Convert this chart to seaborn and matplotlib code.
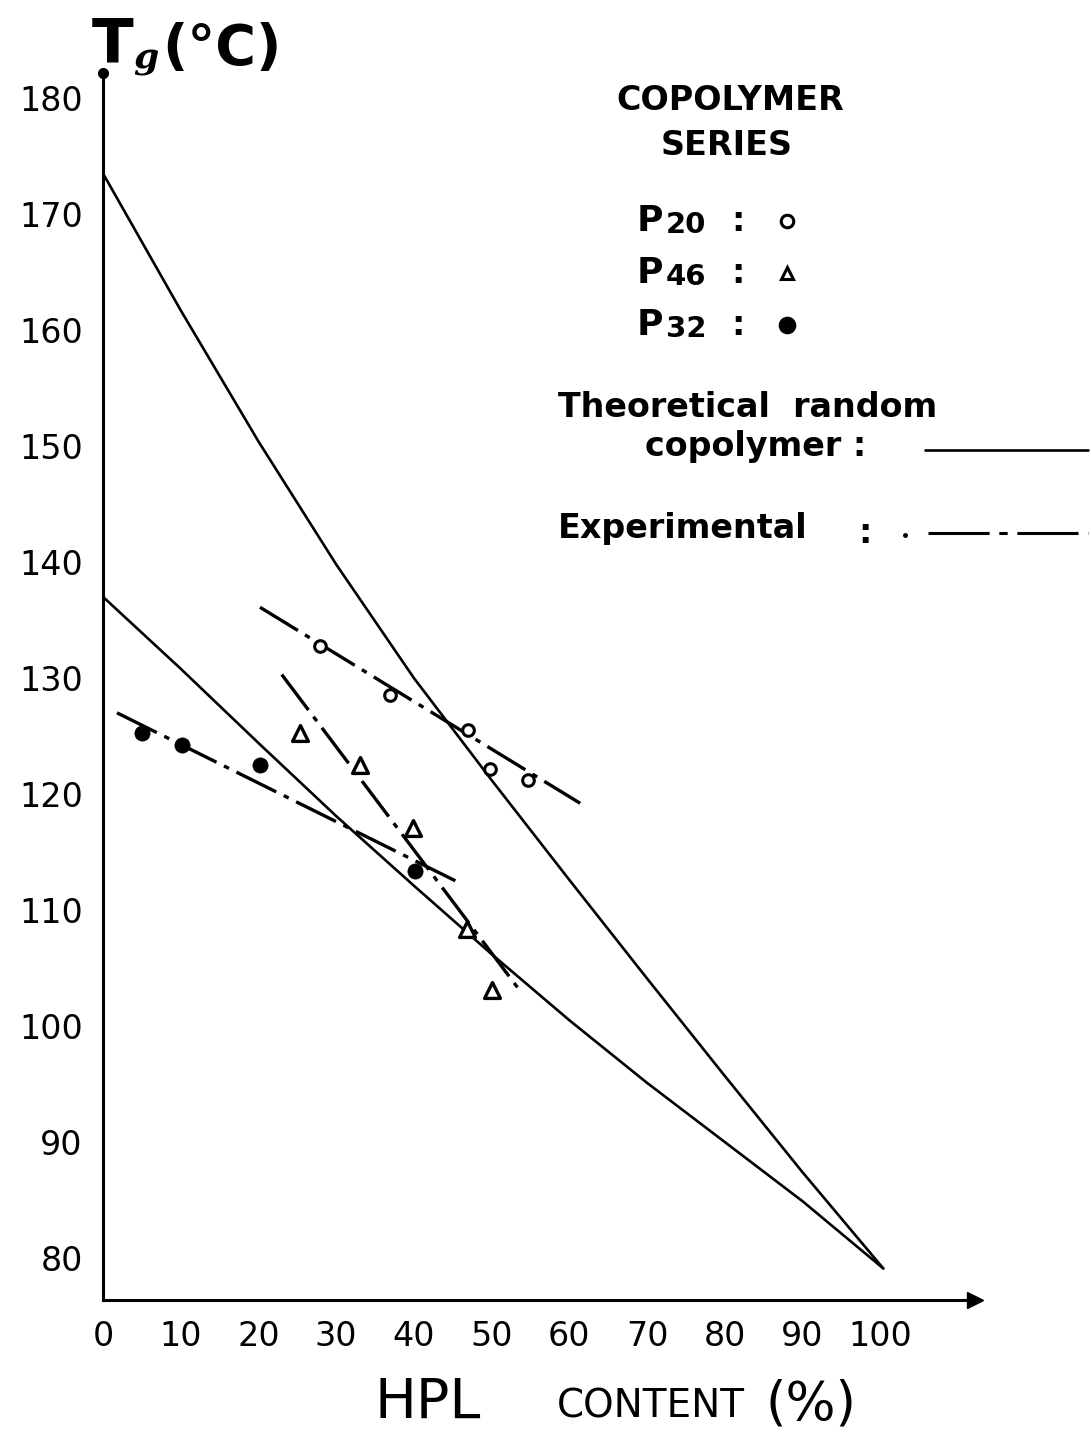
import matplotlib
matplotlib.use("Agg")
import matplotlib.pyplot as plt
import seaborn as sns
import pandas as pd
from matplotlib.lines import Line2D

# ---------------- data ----------------
theo_upper_x = [0, 10, 20, 30, 40, 50, 60, 70, 80, 90, 100.4]
theo_upper_y = [173.5, 161.7, 150.4, 139.8, 130.0, 121.2, 112.6, 104.1, 95.7, 87.4, 79.1]
theo_lower_x = [0, 10, 20, 30, 40, 50, 60, 70, 80, 90, 100.4]
theo_lower_y = [137.0, 130.8, 124.4, 118.1, 112.1, 106.2, 100.5, 95.1, 90.0, 84.9, 79.1]

p20_x = [27.9, 36.9, 47.0, 49.8, 54.7]
p20_y = [132.8, 128.5, 125.5, 122.2, 121.2]
p46_x = [25.4, 33.1, 39.9, 46.8, 50.1]
p46_y = [125.3, 122.5, 117.1, 108.4, 103.1]
p32_x = [5.0, 10.2, 20.2, 40.2]
p32_y = [125.3, 124.2, 122.5, 113.4]

fit_p20_x = [20.2, 61.4]
fit_p20_y = [136.1, 119.2]
fit_p46_x = [23.0, 53.7]
fit_p46_y = [130.3, 103.0]
fit_p32_x = [1.8, 46.0]
fit_p32_y = [127.0, 112.3]

x_ticks = [0, 10, 20, 30, 40, 50, 60, 70, 80, 90, 100]
y_ticks = [80, 90, 100, 110, 120, 130, 140, 150, 160, 170, 180]

# ---------------- style ----------------
sns.set_theme(style="white")
plt.rcParams["font.family"] = ["DejaVu Sans"]
plt.rcParams["lines.scale_dashes"] = False
plt.rcParams["text.color"] = "black"

W, H = 1091, 1432
fig = plt.figure(figsize=(W / 100, H / 100), dpi=100)
fig.patch.set_facecolor("white")

def fx(px):
    return px / W

def fy(py):
    return 1 - py / H

ax = fig.add_axes([fx(103), fy(1300), (975 - 103) / W, (1300 - 73) / H])
ax.set_facecolor("white")

# theoretical curves
theo = pd.DataFrame({
    "x": theo_upper_x + theo_lower_x,
    "y": theo_upper_y + theo_lower_y,
    "curve": ["upper"] * len(theo_upper_x) + ["lower"] * len(theo_lower_x),
})
sns.lineplot(data=theo, x="x", y="y", units="curve", estimator=None, sort=False,
             color="black", linewidth=1.9, ax=ax, legend=False)

# experimental fits (dash-dot)
dash = (0, (32, 6, 4, 6))
for xs, ys in [(fit_p20_x, fit_p20_y), (fit_p46_x, fit_p46_y), (fit_p32_x, fit_p32_y)]:
    ax.plot(xs, ys, color="black", linewidth=2.4, linestyle=dash, solid_capstyle="butt")

# data points
sns.scatterplot(x=p20_x, y=p20_y, marker="o", s=70, facecolor="white",
                edgecolor="black", linewidth=2.2, ax=ax, zorder=5)
sns.scatterplot(x=p46_x, y=p46_y, marker="^", s=130, facecolor="white",
                edgecolor="black", linewidth=2.4, ax=ax, zorder=5)
sns.scatterplot(x=p32_x, y=p32_y, marker="o", s=120, color="black",
                edgecolor="black", linewidth=0.5, ax=ax, zorder=5)

ax.set_xlim(0, 112.2)
ax.set_ylim(76.38, 182.16)
ax.set_xlabel("")
ax.set_ylabel("")

for s in ["top", "right"]:
    ax.spines[s].set_visible(False)
for s in ["left", "bottom"]:
    ax.spines[s].set_color("black")
    ax.spines[s].set_linewidth(2.2)

ax.set_xticks(x_ticks)
ax.set_yticks(y_ticks)
ax.set_xticklabels([str(v) for v in x_ticks])
ax.set_yticklabels([str(v) for v in y_ticks])
ax.tick_params(axis="both", direction="inout", length=9, width=2, color="black",
               labelsize=24, labelcolor="black")
ax.tick_params(axis="x", pad=10)
ax.tick_params(axis="y", pad=10)

# arrow / dot at axis ends
ax.plot([112.2], [76.38], marker=">", color="black", markersize=11, clip_on=False)
ax.plot([0], [182.16], marker="o", color="black", markersize=7, clip_on=False)

# ---------------- titles ----------------
fig.text(fx(92), fy(62), "T", fontsize=44, fontweight="bold", ha="left", va="baseline",
         color="black", family=["DejaVu Sans"])
fig.text(fx(133), fy(68), "g", fontsize=26, fontweight="bold", style="italic",
         ha="left", va="baseline", color="black", family=["DejaVu Serif"])
fig.text(fx(162), fy(64), "(°C)", fontsize=40, fontweight="bold", ha="left",
         va="baseline", color="black", family=["DejaVu Sans"])

fig.text(fx(375), fy(1418), "HPL", fontsize=40, ha="left", va="baseline", color="black")
fig.text(fx(557), fy(1418), "CONTENT", fontsize=28, ha="left", va="baseline", color="black")
fig.text(fx(765), fy(1420), "(%)", fontsize=38, ha="left", va="baseline", color="black")

# ---------------- legend (as text) ----------------
bold = dict(fontweight="bold", color="black", family=["DejaVu Sans"])
fig.text(fx(730), fy(110), "COPOLYMER", fontsize=24, ha="center", va="baseline", **bold)
fig.text(fx(727), fy(155), "SERIES", fontsize=24, ha="center", va="baseline", **bold)

rows = [("20", 231, "o", "white"), ("46", 283, "^", "white"), ("32", 335, "o", "black")]
for sub, base, mk, fc in rows:
    fig.text(fx(637), fy(base), "P", fontsize=26, ha="left", va="baseline", **bold)
    fig.text(fx(666), fy(base + 2), sub, fontsize=21, ha="left", va="baseline", **bold)
    fig.text(fx(731), fy(base), ":", fontsize=24, ha="left", va="baseline", **bold)
    msz = 9 if fc == "white" else 10.5
    fig.add_artist(Line2D([fx(787)], [fy(base - 10)], marker=mk, markersize=msz,
                          markerfacecolor=fc, markeredgecolor="black",
                          markeredgewidth=2.2, transform=fig.transFigure))

fig.text(fx(558), fy(417), "Theoretical  random", fontsize=24, ha="left", va="baseline", **bold)
fig.text(fx(645), fy(456), "copolymer :", fontsize=24, ha="left", va="baseline", **bold)
fig.add_artist(Line2D([fx(925), fx(1088)], [fy(450), fy(450)], color="black",
                      linewidth=1.9, transform=fig.transFigure))

fig.text(fx(558), fy(538), "Experimental", fontsize=24, ha="left", va="baseline", **bold)
fig.text(fx(858), fy(543), ":", fontsize=24, ha="left", va="baseline", **bold)
fig.add_artist(Line2D([fx(905)], [fy(535)], marker="o", markersize=2.5, color="black",
                      transform=fig.transFigure))
fig.add_artist(Line2D([fx(928), fx(1088)], [fy(533), fy(533)], color="black",
                      linewidth=2.2, linestyle=(0, (44, 7, 6, 7)),
                      transform=fig.transFigure))

fig.savefig("out.png", dpi=100, facecolor="white")
